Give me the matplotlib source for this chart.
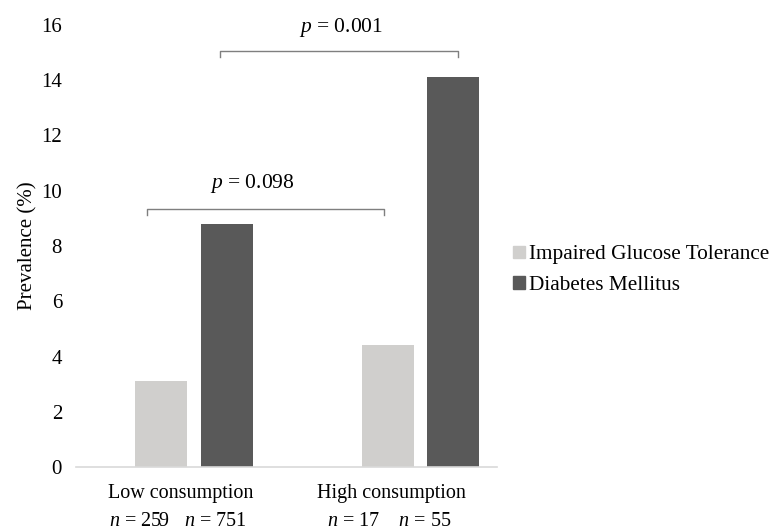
import matplotlib
matplotlib.use("Agg")
import matplotlib.pyplot as plt
import numpy as np
from matplotlib.patches import Patch

plt.rcParams['font.family'] = ['Liberation Serif', 'DejaVu Serif']
plt.rcParams['mathtext.fontset'] = 'custom'
plt.rcParams['mathtext.rm'] = 'Liberation Serif'
plt.rcParams['mathtext.it'] = 'Liberation Serif:italic'

categories = ["Low consumption", "High consumption"]
n_igt = [259, 17]
n_dm = [751, 55]
series = ["Impaired Glucose Tolerance", "Diabetes Mellitus"]
igt = [3.1, 4.4]
dm = [8.8, 14.1]
colors = ["#d0cfcd", "#595959"]
p_values = ["0.098", "0.001"]

fig = plt.figure(figsize=(7.75, 5.31), dpi=100)
ax = fig.add_axes([0.098, 0.1205, 0.543, 0.8325])

x = np.arange(len(categories))
w = 0.229
off = 0.144
ax.bar(x - off, igt, w, color=colors[0])
ax.bar(x + off, dm, w, color=colors[1])

ax.set_xlim(-0.52, 1.335)
ax.set_ylim(0, 16)
ax.set_yticks(np.arange(0, 17, 2))
ax.tick_params(axis='y', length=0, pad=10, labelsize=15)

# category labels with group sizes underneath
ax.set_xticks([])
trans = ax.get_xaxis_transform()
label_x = [-0.06, 0.87]
for lx, c, a, b in zip(label_x, categories, n_igt, n_dm):
    gap = "   " if a > 99 else "    "
    ax.text(lx, -0.0701, c, transform=trans, ha="center", va="baseline",
            fontsize=14.5)
    ax.text(lx - 0.01, -0.1335, f"$n$ = {a}{gap}$n$ = {b}", transform=trans,
            ha="center", va="baseline", fontsize=14.5)

for s in ["top", "right", "left"]:
    ax.spines[s].set_visible(False)
ax.spines["bottom"].set_color("#d9d9d9")
ax.spines["bottom"].set_linewidth(1.2)

ax.set_ylabel("Prevalence (%)", fontsize=15, labelpad=3)

# significance brackets
brackets = [(-0.207, 0.837, 9.35), (0.115, 1.163, 15.07)]
text_pos = [(0.255, 10.25), (0.648, 15.9)]
for (x0, x1, y), (tx, ty), p in zip(brackets, text_pos, p_values):
    ax.plot([x0, x0, x1, x1], [y - 0.22, y, y, y - 0.22], color="#7f7f7f",
            lw=1, clip_on=False)
    ax.text(tx, ty, f"$p$ = {p}", ha="center", va="center", fontsize=15.5,
            clip_on=False)

handles = [Patch(color=colors[0]), Patch(color=colors[1])]
fig.legend(handles, series, loc="center left", bbox_to_anchor=(0.648, 0.491),
           frameon=False, fontsize=15.3, handlelength=0.55, handleheight=0.55,
           handletextpad=0.2, labelspacing=0.55, borderpad=0)

fig.savefig("out.png", dpi=100)
